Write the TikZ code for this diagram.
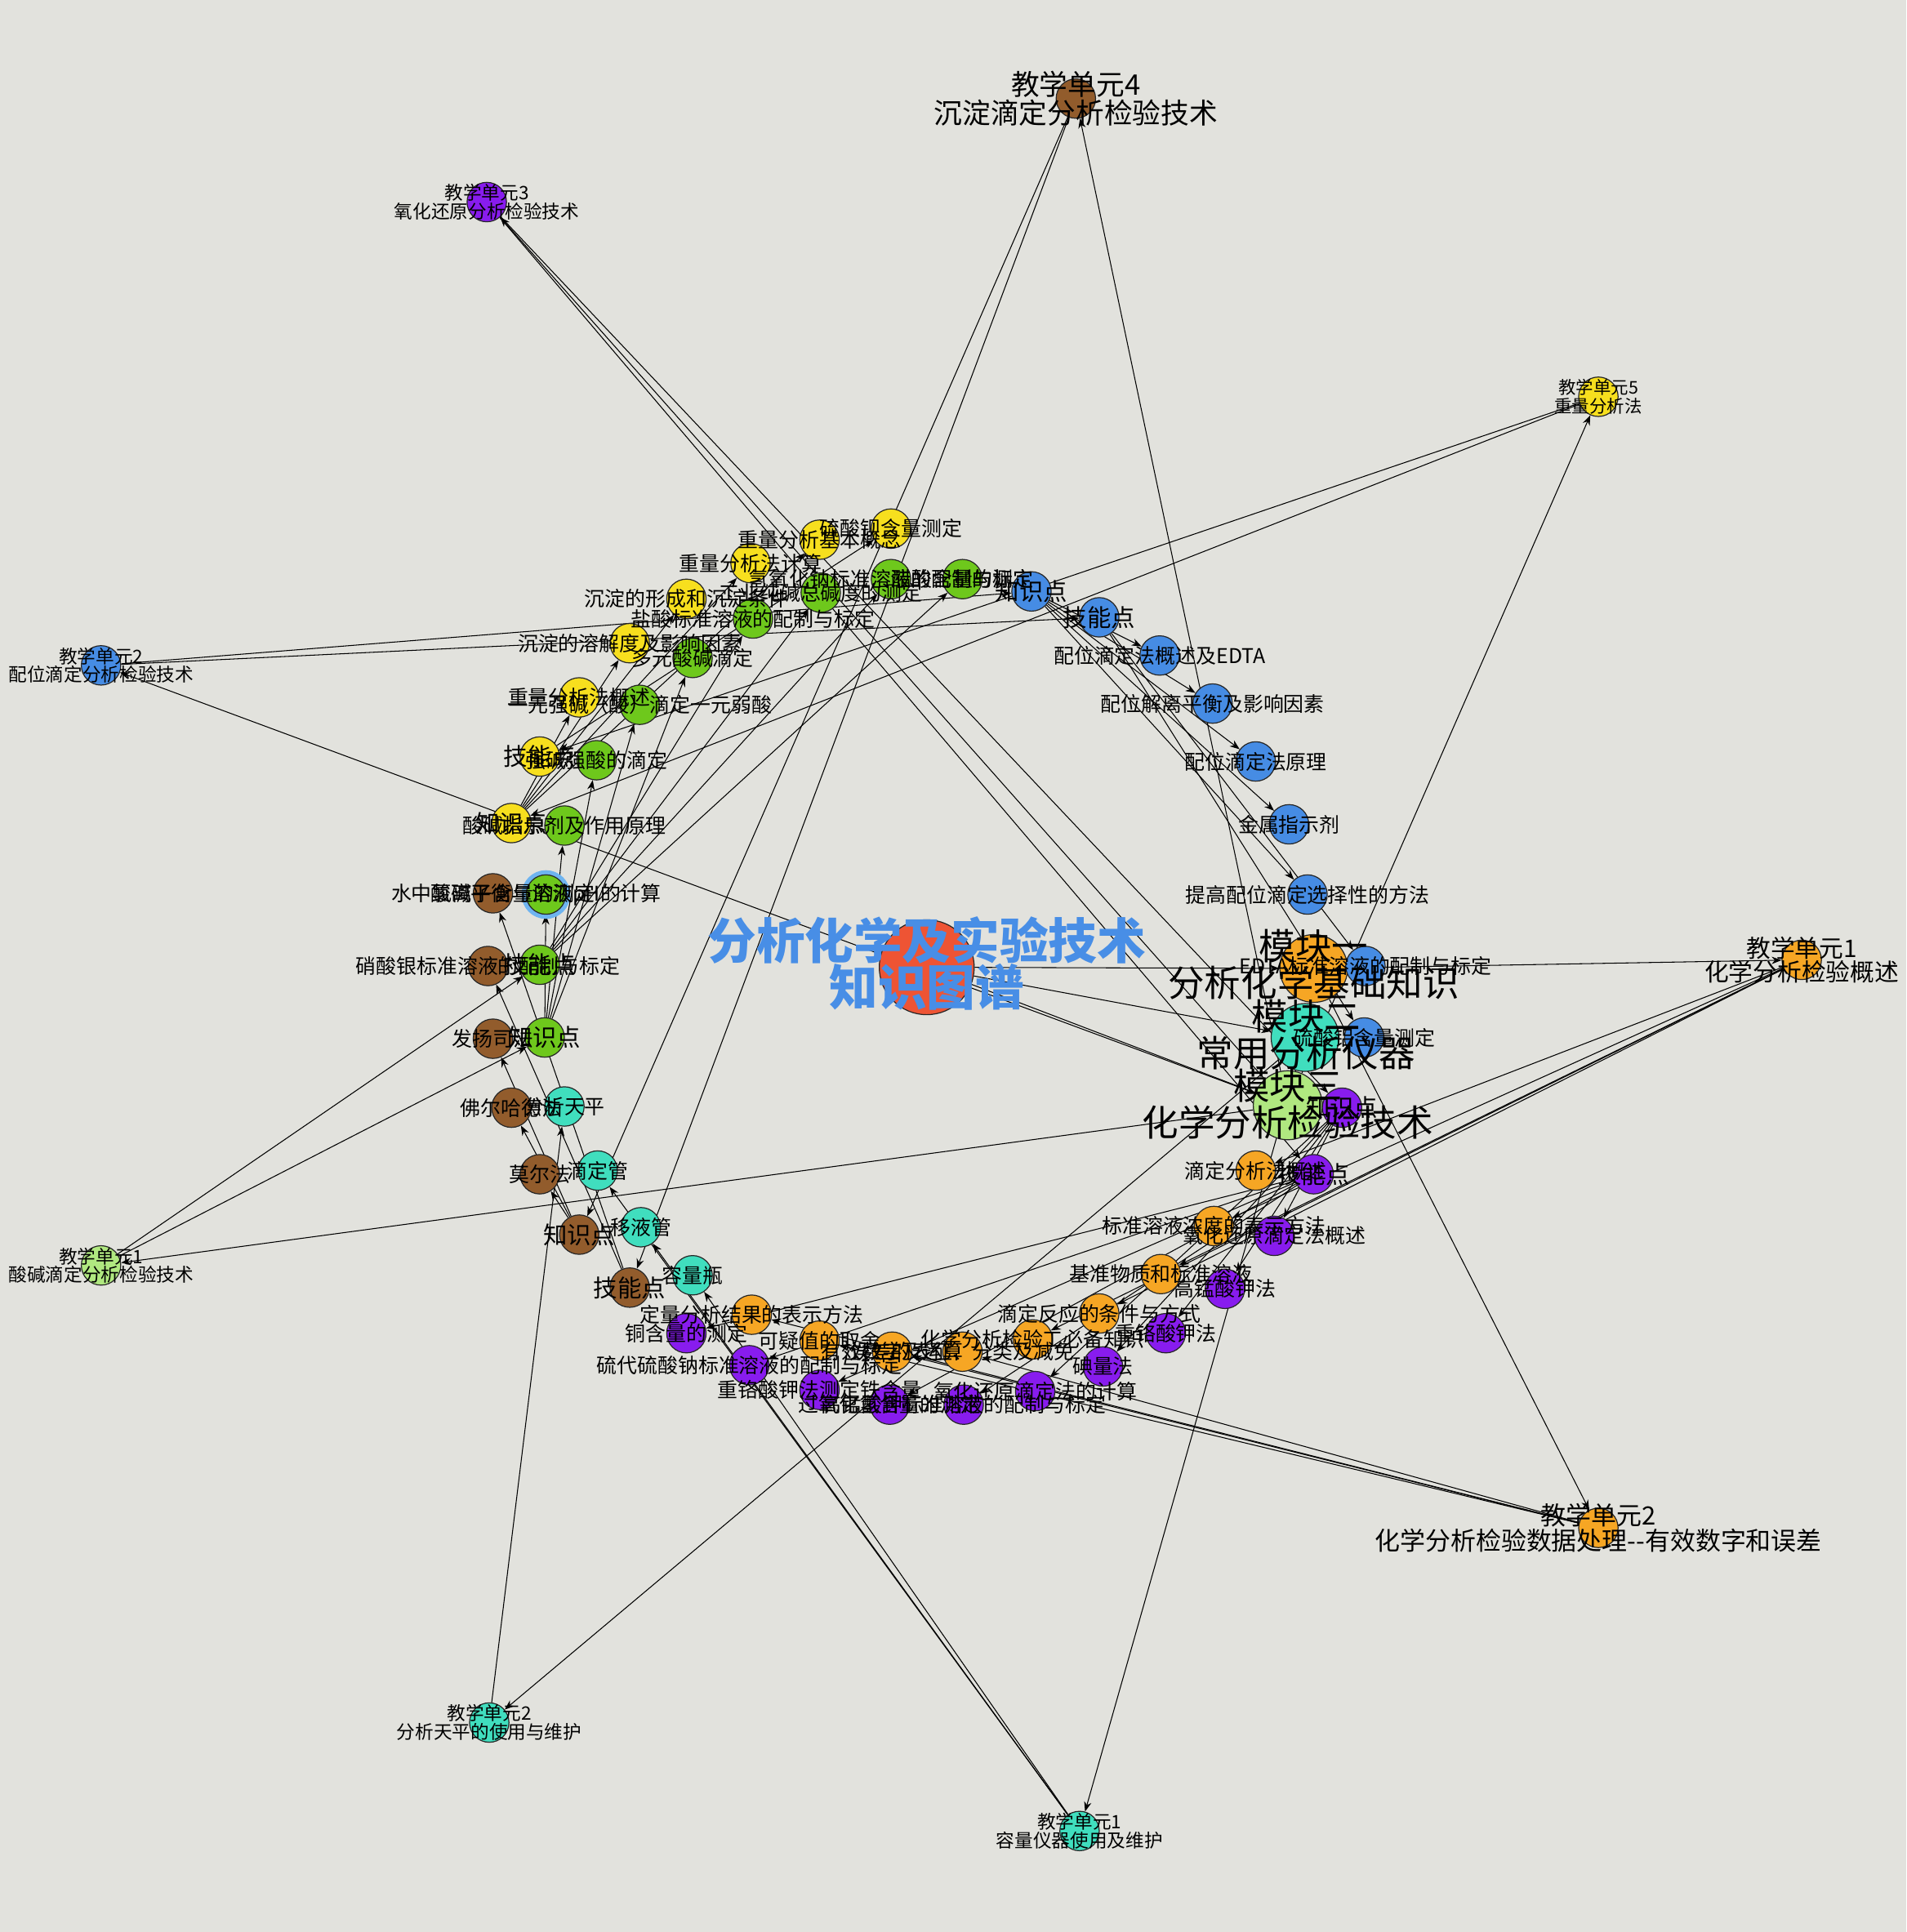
\documentclass[tikz,border=0pt]{standalone}
\usepackage{fontspec}
\setmainfont{Noto Sans CJK SC}
\usetikzlibrary{arrows.meta}
\definecolor{bgc}{RGB}{226,226,221}
\definecolor{cyel}{RGB}{247,223,30}
\definecolor{cgrn}{RGB}{110,200,28}
\definecolor{cbrn}{RGB}{146,92,44}
\definecolor{ctea}{RGB}{64,222,190}
\definecolor{cblu}{RGB}{70,140,228}
\definecolor{cpur}{RGB}{136,28,238}
\definecolor{cora}{RGB}{246,166,36}
\definecolor{clgr}{RGB}{176,232,128}
\definecolor{cred}{RGB}{238,84,52}
\definecolor{ctit}{RGB}{72,142,230}
\definecolor{cring}{RGB}{110,180,240}
\pgfdeclarelayer{bglayer}\pgfdeclarelayer{edgelayer}\pgfdeclarelayer{textlayer}
\pgfsetlayers{bglayer,edgelayer,main,textlayer}
\tikzset{
 dot/.style={circle,draw=black!85,line width=0.8pt,minimum size=32pt,inner sep=0pt},
 lab/.style={font=\fontsize{16.5}{17}\selectfont,inner sep=0pt,text=black},
 kp/.style={font=\fontsize{19.5}{20}\selectfont,inner sep=0pt,text=black},
 unit/.style={font=\fontsize{15}{15}\selectfont,align=center,inner sep=0pt,text=black},
 modl/.style={font=\fontsize{29.5}{30}\selectfont,align=center,inner sep=0pt,text=black},
 arr/.style={-{Stealth[length=8pt,width=6pt]},line width=0.7pt,black},
}
\newcommand\nd[5]{\node[dot,fill=#2] (#1) at (#3) {};
 \begin{pgfonlayer}{textlayer}\node[#4] (#1-t) at (#3) {#5};\end{pgfonlayer}}
\begin{document}
\begin{tikzpicture}[x=1pt,y=-1pt]
\begin{pgfonlayer}{bglayer}
\fill[bgc] (0,0) rectangle (1547,1568);
\end{pgfonlayer}
\useasboundingbox (0,0) rectangle (1547,1568);
% center and modules
\node[dot,fill=cred,minimum size=77pt] (c) at (752,785) {};
\begin{pgfonlayer}{textlayer}
\node[font=\bfseries\fontsize{39.5}{38}\selectfont,text=ctit,align=center,inner sep=0pt] (c-t) at (752,782) {分析化学及实验技术\\知识图谱};
\end{pgfonlayer}
\node[dot,fill=cora,minimum size=55pt] (m1) at (1066,786) {};
\node[dot,fill=ctea,minimum size=55pt] (m2) at (1059,842) {};
\node[dot,fill=clgr,minimum size=56pt] (m3) at (1045,897) {};
\begin{pgfonlayer}{textlayer}
\node[modl] (m1-t) at (1066,783) {模块一\\分析化学基础知识};
\node[modl] (m2-t) at (1060,840) {模块二\\常用分析仪器};
\node[modl] (m3-t) at (1045,896) {模块三\\化学分析检验技术};
\end{pgfonlayer}
% teaching units
\nd{ua1}{cora}{1462,779}{unit,font=\fontsize{19.7}{19}\selectfont}{教学单元1\\化学分析检验概述}
\nd{ua2}{cora}{1297,1240}{unit,font=\fontsize{20.5}{20}\selectfont}{教学单元2\\化学分析检验数据处理-{}-有效数字和误差}
\nd{u5}{cyel}{1297,322}{unit,font=\fontsize{14.2}{15}\selectfont}{教学单元5\\重量分析法}
\nd{u4}{cbrn}{873,80}{unit,font=\fontsize{23}{23}\selectfont}{教学单元4\\沉淀滴定分析检验技术}
\nd{u3}{cpur}{395,164}{unit}{教学单元3\\氧化还原分析检验技术}
\nd{ub2}{cblu}{82,540}{unit}{教学单元2\\配位滴定分析检验技术}
\nd{ub1}{clgr}{82,1027}{unit}{教学单元1\\酸碱滴定分析检验技术}
\nd{uc2}{ctea}{397,1398}{unit}{教学单元2\\分析天平的使用与维护}
\nd{uc1}{ctea}{876,1486}{unit}{教学单元1\\容量仪器使用及维护}
% yellow
\nd{ybao}{cyel}{723,429}{lab}{硫酸钡含量测定}
\nd{ygn}{cyel}{665,438}{lab}{重量分析基本概念}
\nd{yjs}{cyel}{609,457}{lab}{重量分析法计算}
\nd{yxc}{cyel}{557,486}{lab}{沉淀的形成和沉淀条件}
\nd{yrj}{cyel}{511,522}{lab}{沉淀的溶解度及影响因素}
\nd{ygs}{cyel}{470,566}{lab}{重量分析法概述}
\nd{yj}{cyel}{438,614}{kp}{技能点}
\nd{yz}{cyel}{415,668}{kp}{知识点}
% green
\node[circle,draw=cring,line width=3.5pt,minimum size=36pt,inner sep=0pt] (gph-ring) at (443,726) {};
\nd{gcs}{cgrn}{781,470}{lab}{醋酸含量的测定}
\nd{gnaoh}{cgrn}{723,470}{lab}{氢氧化钠标准溶液的配制与标定}
\nd{gjd}{cgrn}{666,481}{lab}{工业纯碱总碱度的测定}
\nd{ghcl}{cgrn}{611,502}{lab}{盐酸标准溶液的配制与标定}
\nd{gdy}{cgrn}{562,534}{lab}{多元酸碱滴定}
\nd{gyy}{cgrn}{519,572}{lab}{一元强碱（酸）滴定一元弱酸}
\nd{gqq}{cgrn}{484,617}{lab}{强碱强酸的滴定}
\nd{gzsj}{cgrn}{458,670}{lab}{酸碱指示剂及作用原理}
\nd{gph}{cgrn}{443,726}{lab}{酸碱平衡与溶液pH的计算}
\nd{gj}{cgrn}{438,783}{kp}{技能点}
\nd{gz}{cgrn}{442,842}{kp}{知识点}
% brown
\nd{bcl}{cbrn}{400,725}{lab}{水中氯离子含量的测定}
\nd{bag}{cbrn}{396,784}{lab}{硝酸银标准溶液的配制与标定}
\nd{bfy}{cbrn}{400,843}{lab}{发扬司法}
\nd{bfe}{cbrn}{415,899}{lab}{佛尔哈德法}
\nd{bme}{cbrn}{438,953}{lab}{莫尔法}
\nd{bz}{cbrn}{470,1002}{kp}{知识点}
\nd{bj}{cbrn}{511,1045}{kp}{技能点}
% teal
\nd{ttp}{ctea}{458,898}{lab}{分析天平}
\nd{tddg}{ctea}{485,950}{lab}{滴定管}
\nd{tyyg}{ctea}{520,996}{lab}{移液管}
\nd{trlp}{ctea}{562,1035}{lab}{容量瓶}
% orange
\nd{odl}{cora}{610,1067}{lab}{定量分析结果的表示方法}
\nd{oky}{cora}{665,1088}{lab}{可疑值的取舍}
\nd{oyx}{cora}{724,1097}{lab}{有效数字及运算}
\nd{owc}{cora}{781,1097}{lab}{误差的表征、分类及减免}
\nd{obb}{cora}{838,1087}{lab}{化学分析检验工必备知识}
\nd{otj}{cora}{892,1066}{lab}{滴定反应的条件与方式}
\nd{ojz}{cora}{942,1034}{lab}{基准物质和标准溶液}
\nd{obz}{cora}{985,995}{lab}{标准溶液浓度的表示方法}
\nd{odd}{cora}{1019,950}{lab}{滴定分析法概述}
% purple
\nd{pz}{cpur}{1089,899}{kp}{知识点}
\nd{pj}{cpur}{1066,953}{kp}{技能点}
\nd{pgs}{cpur}{1034,1003}{lab}{氧化还原滴定法概述}
\nd{pkmn}{cpur}{994,1046}{lab}{高锰酸钾法}
\nd{pcr}{cpur}{946,1082}{lab}{重铬酸钾法}
\nd{pi}{cpur}{895,1109}{lab}{碘量法}
\nd{pjs}{cpur}{840,1129}{lab}{氧化还原滴定法的计算}
\nd{pkbz}{cpur}{782,1140}{lab}{高锰酸钾标准溶液的配制与标定}
\nd{ph}{cpur}{722,1140}{lab}{过氧化氢含量的测定}
\nd{pfe}{cpur}{665,1128}{lab}{重铬酸钾法测定铁含量}
\nd{pna}{cpur}{608,1108}{lab}{硫代硫酸钠标准溶液的配制与标定}
\nd{pcu}{cpur}{557,1082}{lab}{铜含量的测定}
% blue
\nd{lz}{cblu}{837,480}{kp}{知识点}
\nd{lj}{cblu}{892,501}{kp}{技能点}
\nd{lgs}{cblu}{941,532}{lab}{配位滴定法概述及EDTA}
\nd{ljl}{cblu}{984,571}{lab}{配位解离平衡及影响因素}
\nd{lyl}{cblu}{1019,618}{lab}{配位滴定法原理}
\nd{lzsj}{cblu}{1046,669}{lab}{金属指示剂}
\nd{ltg}{cblu}{1061,726}{lab}{提高配位滴定选择性的方法}
\nd{ledta}{cblu}{1108,784}{lab}{EDTA标准溶液的配制与标定}
\nd{lhl}{cblu}{1107,842}{lab}{硫酸铝含量测定}
% edges
\begin{pgfonlayer}{edgelayer}
\foreach \a/\b in {c/m1,c/m2,c/m3,m1/ua1,m1/ua2,m2/uc1,m2/uc2,
 m3/ub1,m3/ub2,m3/u3,m3/u4,m3/u5,
 u5/yz,u5/yj,yz/ygs,yz/yrj,yz/yxc,yz/yjs,yz/ygn,yj/ybao,
 ub1/gz,ub1/gj,gz/gzsj,gz/gqq,gz/gyy,gz/gdy,gz/gph,gj/ghcl,gj/gnaoh,gj/gjd,gj/gcs,
 u4/bz,u4/bj,bz/bme,bz/bfe,bz/bfy,bj/bag,bj/bcl,
 ub2/lz,ub2/lj,lz/lgs,lz/ljl,lz/lyl,lz/lzsj,lz/ltg,lj/ledta,lj/lhl,
 u3/pz,u3/pj,pz/pgs,pz/pkmn,pz/pcr,pz/pi,pz/pjs,pj/pkbz,pj/ph,pj/pfe,pj/pna,pj/pcu,
 uc1/tddg,uc1/tyyg,uc1/trlp,uc2/ttp,
 ua1/odd,ua1/obz,ua1/ojz,ua1/otj,ua1/obb,ua2/owc,ua2/oyx,ua2/oky,ua2/odl}
 {\draw[arr] (\a) -- (\b);}
\end{pgfonlayer}
\end{tikzpicture}
\end{document}
